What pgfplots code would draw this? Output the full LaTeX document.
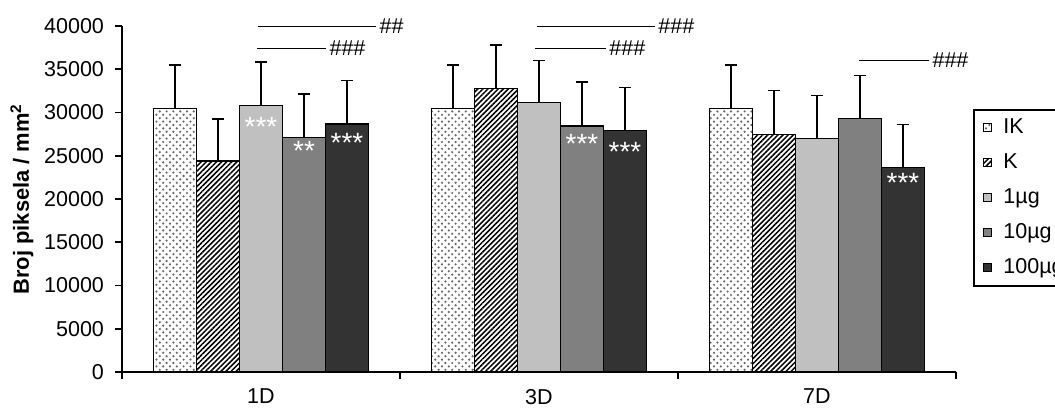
\documentclass[border=0pt]{standalone}
\usepackage{fontspec}
\setmainfont{Liberation Sans}
\usepackage{pgfplots}
\usepackage{pgfplotstable}
\pgfplotsset{compat=1.18}
\usetikzlibrary{patterns,patterns.meta}

\pgfdeclarepatternformonly{mydots}{\pgfqpoint{-0.7bp}{-0.7bp}}{\pgfqpoint{2.7bp}{2.7bp}}{\pgfqpoint{3.4bp}{3.4bp}}{%
 \pgfpathcircle{\pgfqpoint{0bp}{0bp}}{0.6bp}%
 \pgfpathcircle{\pgfqpoint{1.7bp}{1.7bp}}{0.6bp}%
 \pgfusepath{fill}}

\definecolor{c1}{HTML}{C0C0C0}
\definecolor{c2}{HTML}{808080}
\definecolor{c3}{HTML}{333333}

\pgfplotstableread{
x IK IKe K Ke A Ae B Be C Ce
0 30500 5000 24400 4850 30800 5050 27130 5000 28670 5030
1 30450 5050 32760 5050 31200 4800 28450 5050 27900 5000
2 30450 5050 27500 5060 26950 5000 29300 4970 23670 4930
}\data

\begin{document}
\begin{tikzpicture}
\begin{axis}[
  scale only axis, width=417bp, height=173bp,
  xmin=-0.5, xmax=2.5, ymin=0, ymax=40000,
  clip=false,
  ybar=0pt, bar width=21.5bp,
  axis x line*=bottom, axis y line*=left,
  axis line style={line width=0.9bp, black},
  xtick={-0.5,0.5,1.5,2.5}, xticklabels={},
  extra x ticks={0,1,2}, extra x tick labels={1D,3D,7D},
  extra x tick style={major tick length=0pt, tick label style={yshift=-5bp}},
  ytick={0,5000,...,40000},
  scaled y ticks=false,
  yticklabel style={/pgf/number format/1000 sep={}, xshift=-2bp},
  /pgf/number format/assume math mode=true,
  tick align=outside, major tick length=3.5bp,
  tick style={line width=0.9bp, black},
  tick label style={font=\fontsize{10.8}{12}\selectfont},
  ylabel={\bfseries Broj piksela / mm\textsuperscript{2}},
  ylabel style={at={(axis description cs:-0.12,0.5)}, anchor=center, font=\fontsize{11}{13}\selectfont},
  legend style={at={(rel axis cs:1.0216,0.2486)}, anchor=south west, draw=none, fill=none,
    font=\fontsize{10.8}{12}\selectfont, row sep=7.5bp, column sep=5.5bp, inner xsep=4.5bp, inner ysep=4bp,
    nodes={inner sep=0bp, text height=8bp, text depth=2bp}},
  legend cell align=left,
  legend image code/.code={\draw[#1, line width=0.5bp] (0bp,-2bp) rectangle (4bp,2bp);},
  every axis plot/.append style={draw=black, line width=0.6bp,
    error bars/y dir=plus, error bars/y explicit,
    error bars/error bar style={line width=0.8bp, black, solid},
    error bars/error mark options={line width=0.8bp, black, mark size=3bp, rotate=90}},
]
\addplot[pattern=mydots, pattern color=black!60] table[x=x, y=IK, y error=IKe] {\data};
\addplot[pattern={Lines[angle=45, distance=1.8bp, line width=0.75bp]}, pattern color=black] table[x=x, y=K, y error=Ke] {\data};
\addplot[fill=c1] table[x=x, y=A, y error=Ae] {\data};
\addplot[fill=c2] table[x=x, y=B, y error=Be] {\data};
\addplot[fill=c3] table[x=x, y=C, y error=Ce] {\data};
\legend{IK,K,1µg,10µg,100µg}

% legend frame
\draw[line width=0.6bp] (rel axis cs:1.0216,0.2486) rectangle (rel axis cs:1.3,0.757);

% significance lines
\draw[line width=0.5bp] (axis cs:-0.009,40000) -- (axis cs:0.414,40000) node[anchor=west, inner sep=1.5bp, font=\fontsize{10.8}{12}\selectfont] {\#\#};
\draw[line width=0.5bp] (axis cs:-0.014,37420) -- (axis cs:0.234,37420) node[anchor=west, inner sep=1.5bp, font=\fontsize{10.8}{12}\selectfont] {\#\#\#};
\draw[line width=0.5bp] (axis cs:0.993,40000) -- (axis cs:1.417,40000) node[anchor=west, inner sep=1.5bp, font=\fontsize{10.8}{12}\selectfont] {\#\#\#};
\draw[line width=0.5bp] (axis cs:0.986,37420) -- (axis cs:1.241,37420) node[anchor=west, inner sep=1.5bp, font=\fontsize{10.8}{12}\selectfont] {\#\#\#};
\draw[line width=0.5bp] (axis cs:2.151,36030) -- (axis cs:2.403,36030) node[anchor=west, inner sep=1.5bp, font=\fontsize{10.8}{12}\selectfont] {\#\#\#};

% stars
\node[text=white, inner sep=0, font=\fontsize{14}{14}\selectfont] at (axis cs:0,28300) {***};
\node[text=white, inner sep=0, font=\fontsize{14}{14}\selectfont] at (axis cs:0.1547,25600) {**};
\node[text=white, inner sep=0, font=\fontsize{14}{14}\selectfont] at (axis cs:0.3094,26500) {***};
\node[text=white, inner sep=0, font=\fontsize{14}{14}\selectfont] at (axis cs:1.1547,26400) {***};
\node[text=white, inner sep=0, font=\fontsize{14}{14}\selectfont] at (axis cs:1.3094,25500) {***};
\node[text=white, inner sep=0, font=\fontsize{14}{14}\selectfont] at (axis cs:2.3094,21850) {***};
\end{axis}
\pgfresetboundingbox
\useasboundingbox (-61bp,-21bp) rectangle (466.5bp,186bp);
\end{tikzpicture}
\end{document}
